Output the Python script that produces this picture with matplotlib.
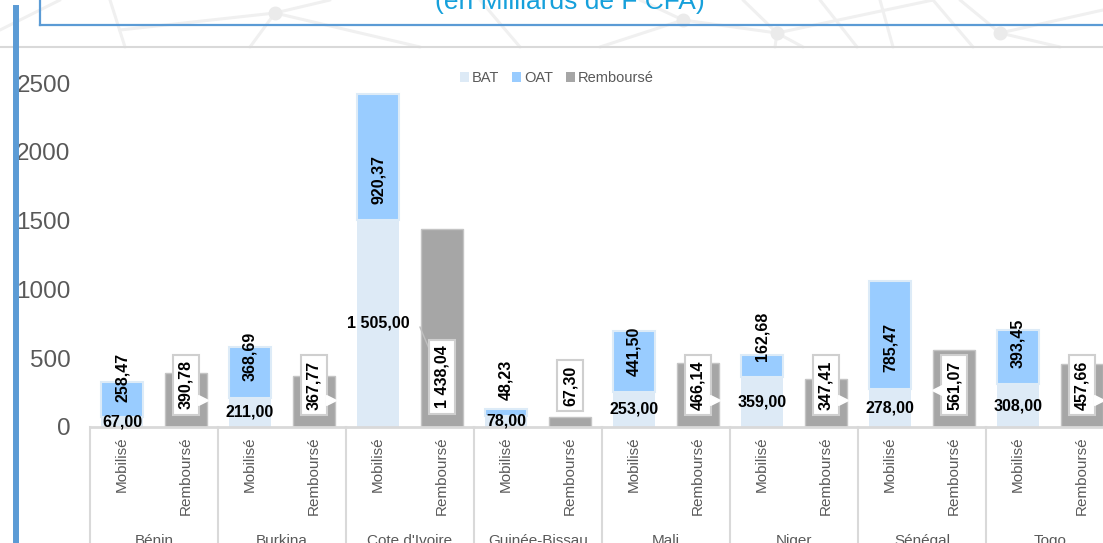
import matplotlib
matplotlib.use("Agg")
import matplotlib.pyplot as plt
import matplotlib.transforms as mtransforms
from matplotlib.lines import Line2D
from matplotlib.patches import Patch
import numpy as np

plt.rcParams["font.family"] = ["Liberation Sans", "DejaVu Sans"]

countries = ["Bénin", "Burkina", "Cote d'Ivoire", "Guinée-Bissau",
             "Mali", "Niger", "Sénégal", "Togo"]
bat = [67.00, 211.00, 1505.00, 78.00, 253.00, 359.00, 278.00, 308.00]
oat = [258.47, 368.69, 920.37, 48.23, 441.50, 162.68, 785.47, 393.45]
rembourse = [390.78, 367.77, 1438.04, 67.30, 466.14, 347.41, 561.07, 457.66]
bar_kinds = ["Mobilisé", "Remboursé"]
y_ticks = [0, 500, 1000, 1500, 2000, 2500]

# label anchors (the Excel labels were dragged around by hand)
oat_label_y = [361, 514, 1800, 340, 550, 660, 580, 608]
remb_label_y = [304, 304, 365, 300, 304, 304, 304, 304]
pointer_side = [1, 1, 0, 0, 1, 1, -1, 1]   # 1 right, -1 left, 0 none

C_BAT = "#ddeaf6"
C_OAT = "#99ccff"
C_REMB = "#a6a6a6"
C_TXT = "#595959"
C_BLUE = "#5b9bd5"


def fr(v):
    return f"{v:,.2f}".replace(",", " ").replace(".", ",")


W, H = 1103, 543
fig = plt.figure(figsize=(W / 100, H / 100), dpi=100)
fig.patch.set_facecolor("white")

# background decoration in pixel coordinates
deco = fig.add_axes([0, 0, 1, 1], zorder=-1)
deco.set_xlim(0, W)
deco.set_ylim(H, 0)
deco.set_axis_off()
pattern = [
    ((110, 0), (125, 47)), ((275, 13), (250, 47)), ((275, 13), (330, 0)),
    ((275, 13), (120, 30)), ((275, 13), (420, 47)), ((683, 20), (640, 0)),
    ((683, 20), (600, 47)), ((683, 20), (777, 33)), ((777, 33), (933, 0)),
    ((777, 33), (743, 0)), ((777, 33), (775, 47)), ((777, 33), (803, 47)),
    ((820, 0), (857, 47)), ((880, 0), (893, 47)), ((933, 0), (973, 47)),
    ((1000, 33), (1103, 10)), ((1000, 33), (960, 0)), ((1000, 33), (1060, 47)),
    ((0, 30), (60, 0)), ((480, 0), (520, 47)),
]
for (x0, y0), (x1, y1) in pattern:
    deco.plot([x0, x1], [y0, y1], color="#f0f0f0", lw=2.2, solid_capstyle="round")
for nx, ny in [(275, 13), (683, 20), (777, 33), (1000, 33)]:
    deco.plot(nx, ny, "o", color="#ebebeb", ms=9)
deco.plot([0, W], [47, 47], color="#d9d9d9", lw=1.5)
deco.plot([40, W], [25, 25], color=C_BLUE, lw=1.6)
deco.plot([40, 40], [0, 25], color=C_BLUE, lw=1.6)

fig.text(570 / W, 1 - 9 / H, "(en Milliards de F CFA)", ha="center",
         va="baseline", fontsize=19, color="#16a0db")

ax = fig.add_axes([90 / W, (H - 426.7) / H, 1024 / W, 370.9 / H])
ax.patch.set_visible(False)

n = len(countries)
x_mob = np.arange(n) * 2
x_remb = x_mob + 1
bw = 0.67

ax.bar(x_mob, bat, width=bw, color=C_BAT, zorder=2)
ax.bar(x_mob, oat, bottom=bat, width=bw, color=C_OAT,
       edgecolor="#ddebf7", linewidth=1.5, zorder=2)
ax.bar(x_remb, rembourse, width=bw, color=C_REMB,
       edgecolor="#c4c4c4", linewidth=1.0, zorder=2)

for i in range(n):
    ax.text(x_mob[i], bat[i] / 2, fr(bat[i]), ha="center", va="center",
            fontsize=11.5, fontweight="bold", color="black", zorder=5)
    ax.text(x_mob[i], oat_label_y[i], fr(oat[i]), ha="center", va="center",
            rotation=90, fontsize=11.5, fontweight="bold", color="black", zorder=5)
    ax.text(x_remb[i], remb_label_y[i], fr(rembourse[i]), ha="center",
            va="center", rotation=90, fontsize=11.5, fontweight="bold",
            color="black", zorder=5,
            bbox=dict(boxstyle="square,pad=0.35", fc="white", ec="#cfcfcf", lw=1.5))
    if pointer_side[i] == 1:
        ax.plot(x_remb[i] + 0.27, 194, marker=">", ms=7, mfc="white",
                mec="white", zorder=6)
    elif pointer_side[i] == -1:
        ax.plot(x_remb[i] - 0.27, 267, marker="<", ms=7, mfc="white",
                mec="white", zorder=6)

# leader line for the Cote d'Ivoire Remboursé label
ax.plot([4.656, 4.84], [725, 522], color="#bfbfbf", lw=1, zorder=4)

ax.set_xlim(-0.5, 2 * n - 0.5)
ax.set_ylim(0, 2700)
for s in ["top", "right", "left"]:
    ax.spines[s].set_visible(False)
ax.spines["bottom"].set_color("#d9d9d9")
ax.spines["bottom"].set_linewidth(2)

ax.set_yticks(y_ticks)
ax.set_yticklabels([str(t) for t in y_ticks])
ax.tick_params(axis="y", length=0, pad=14, labelsize=17.5, labelcolor=C_TXT)

ax.set_xticks(np.arange(2 * n))
ax.set_xticklabels(bar_kinds * n, rotation=90, va="top", ha="center")
ax.tick_params(axis="x", length=0, pad=7, labelsize=11, labelcolor=C_TXT)

trans = mtransforms.blended_transform_factory(ax.transData, ax.transAxes)
for b in np.arange(-0.5, 2 * n, 2):
    ax.plot([b, b], [0, -0.5], transform=trans, color="#d9d9d9", lw=1.5,
            clip_on=False)
# country names sit on the bottom edge, partly cut like in the source
for i, name in enumerate(countries):
    ax.text(x_mob[i] + 0.5, -0.308, name, transform=trans, ha="center",
            va="center", fontsize=11, color=C_TXT)

handles = [Patch(fc=C_BAT), Patch(fc=C_OAT), Patch(fc=C_REMB)]
leg = ax.legend(handles, ["BAT", "OAT", "Remboursé"], loc="center",
                bbox_to_anchor=(0.456, 0.94), ncol=3, frameon=False,
                fontsize=10.5, handlelength=0.6, handleheight=0.6,
                handletextpad=0.2, columnspacing=0.9)
for t in leg.get_texts():
    t.set_color(C_TXT)

fig.add_artist(Line2D([16 / W, 16 / W], [0, 1 - 8 / H], color=C_BLUE,
                      lw=4.3, transform=fig.transFigure, zorder=20))

fig.savefig("out.png", dpi=100)
